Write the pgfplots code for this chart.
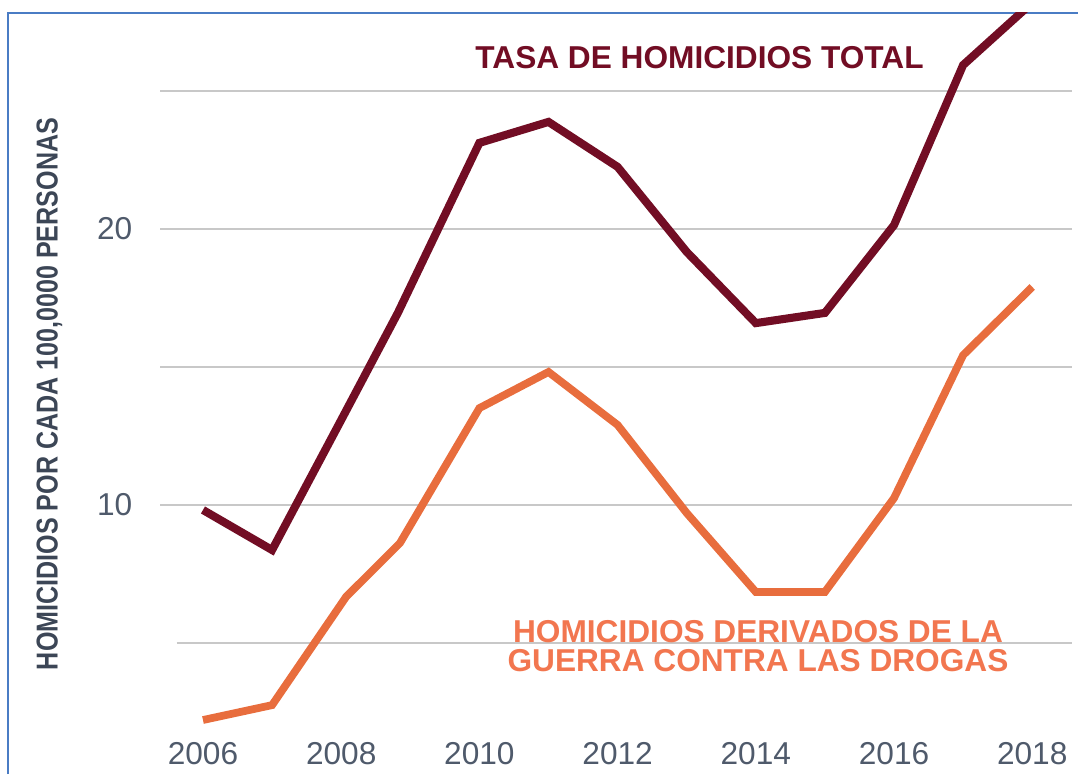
\documentclass[border=0pt]{standalone}
\usepackage{fontspec}
\setmainfont{Liberation Sans}
\usepackage{graphicx}
\usepackage{pgfplots}
\pgfplotsset{compat=1.18}

\definecolor{vino}{HTML}{720D24}
\definecolor{naranja}{HTML}{E86D3D}
\definecolor{naranjatxt}{HTML}{F2764F}
\definecolor{ticktxt}{HTML}{4F5A6B}
\definecolor{labeltxt}{HTML}{3C4656}
\definecolor{marco}{HTML}{4A7CC4}
\definecolor{rejilla}{HTML}{C8C8C8}

\begin{document}
\begin{tikzpicture}
	% page = 1078 x 774 px at 0.1mm per px, plot area from px (160,13) to (1072,740)
	\useasboundingbox (-16mm,-3.4mm) rectangle (91.8mm,74mm);
	\draw[marco, line width=0.2mm] (-15.2mm,-3.4mm) -- (-15.2mm,72.7mm) -- (91.8mm,72.7mm);

	\begin{axis}[
			at={(0,0)}, anchor=south west,
			scale only axis,
			width=91.2mm,
			height=72.7mm,
			xmin=2005.378, xmax=2018.576,
			ymin=1.486, ymax=27.826,
			axis line style={draw=none},
			tick style={draw=none},
			xtick={2006,2008,2010,2012,2014,2016,2018},
			xticklabels={2006,2008,2010,2012,2014,2016,2018},
			ytick={10,15,20,25},
			yticklabels={10,,20,},
			ymajorgrids,
			major grid style={rejilla, line width=0.2mm},
			ticklabel style={font=\fontsize{9}{10}\selectfont, text=ticktxt},
			xticklabel style={anchor=base, yshift=-2.4mm},
			yticklabel style={anchor=east, inner sep=0pt, xshift=-2.7mm},
			clip=true,
		]

		% lowest gridline starts a little further right
		\addplot[rejilla, line width=0.2mm] coordinates {(2005.62,5) (2018.576,5)};

		% total homicide rate
		\addplot[vino, line width=2.3pt] coordinates {
				(2006,9.82) (2007,8.37) (2008,13.08) (2008.82,16.96) (2010,23.12)
				(2011,23.88) (2012,22.25) (2013,19.17) (2014,16.59) (2015,16.96)
				(2016,20.14) (2017,25.94) (2018,28.2)
			};

		% drug war homicides
		\addplot[naranja, line width=2.2pt] coordinates {
				(2006,2.21) (2007,2.75) (2008.07,6.67) (2008.85,8.62) (2010,13.51)
				(2011,14.82) (2012,12.90) (2013,9.71) (2014,6.85) (2015,6.85)
				(2016,10.25) (2017,15.43) (2018,17.90)
			};
	\end{axis}

	\node[text=vino, font=\bfseries\fontsize{9}{10}\selectfont] at (53.95mm,68.2mm) {TASA DE HOMICIDIOS TOTAL};
	\node[text=naranjatxt, align=center, font=\bfseries\fontsize{9}{8.2}\selectfont] at (59.8mm,9.4mm)
		{HOMICIDIOS DERIVADOS DE LA\\GUERRA CONTRA LAS DROGAS};
	\node[text=labeltxt, rotate=90, font=\bfseries\fontsize{8.6}{9}\selectfont] at (-11.05mm,34.6mm)
		{\scalebox{0.83}[1]{HOMICIDIOS POR CADA 100,0000 PERSONAS}};
\end{tikzpicture}
\end{document}
